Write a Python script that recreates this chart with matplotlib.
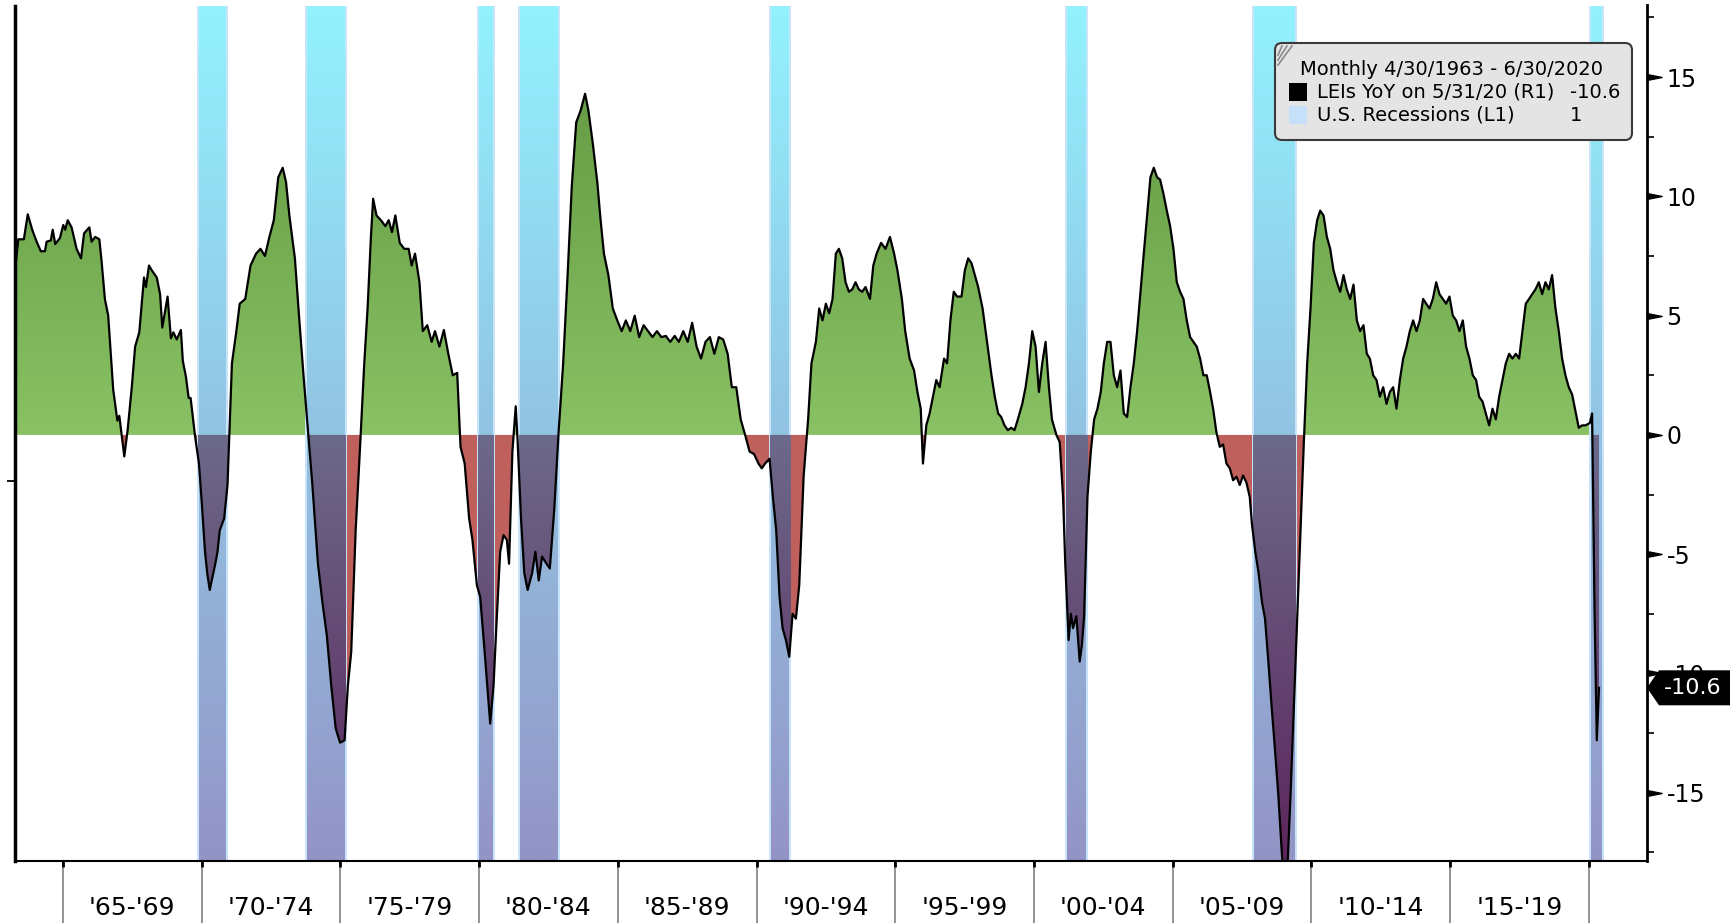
"""
LEIs YoY (R1) avec les recessions US (L1) en fond - style terminal Bloomberg.
"""
import numpy as np
import matplotlib
matplotlib.use("Agg")
import matplotlib.pyplot as plt
import matplotlib.transforms as mtransforms
from matplotlib.path import Path
from matplotlib.patches import FancyBboxPatch, Polygon, Rectangle
from matplotlib.lines import Line2D

plt.rcParams["axes.unicode_minus"] = False
plt.rcParams["font.family"] = ["DejaVu Sans"]

# --- donnees (annee decimale, % YoY) ---
lei_dates = [
    1963.27, 1963.39, 1963.59, 1963.73, 1963.89, 1964.05, 1964.20, 1964.35, 1964.41, 1964.56,
    1964.63, 1964.72, 1964.89, 1965.01, 1965.08, 1965.17, 1965.31, 1965.49, 1965.65, 1965.76,
    1965.95, 1966.03, 1966.16, 1966.31, 1966.39, 1966.51, 1966.63, 1966.81, 1966.96, 1967.03,
    1967.21, 1967.33, 1967.48, 1967.60, 1967.75, 1967.92, 1967.99, 1968.10, 1968.20, 1968.38,
    1968.50, 1968.58, 1968.77, 1968.89, 1968.98, 1969.10, 1969.25, 1969.32, 1969.43, 1969.53,
    1969.60, 1969.76, 1969.90, 1970.00, 1970.12, 1970.20, 1970.29, 1970.49, 1970.57, 1970.65,
    1970.81, 1970.93, 1971.09, 1971.25, 1971.37, 1971.57, 1971.76, 1971.96, 1972.12, 1972.28,
    1972.44, 1972.60, 1972.76, 1972.92, 1973.04, 1973.16, 1973.36, 1973.52, 1973.67, 1973.83,
    1973.99, 1974.19, 1974.35, 1974.51, 1974.67, 1974.83, 1974.99, 1975.15, 1975.27, 1975.39,
    1975.55, 1975.70, 1975.86, 1975.98, 1976.10, 1976.18, 1976.30, 1976.46, 1976.62, 1976.74,
    1976.86, 1976.98, 1977.14, 1977.30, 1977.46, 1977.57, 1977.69, 1977.85, 1977.97, 1978.13,
    1978.29, 1978.41, 1978.57, 1978.73, 1978.89, 1979.05, 1979.21, 1979.33, 1979.48, 1979.64,
    1979.76, 1979.92, 1980.04, 1980.20, 1980.32, 1980.40, 1980.52, 1980.64, 1980.76, 1980.88,
    1981.00, 1981.08, 1981.20, 1981.32, 1981.39, 1981.51, 1981.63, 1981.75, 1981.91, 1982.03,
    1982.15, 1982.27, 1982.43, 1982.55, 1982.71, 1982.87, 1983.03, 1983.19, 1983.34, 1983.50,
    1983.66, 1983.82, 1983.94, 1984.10, 1984.26, 1984.38, 1984.50, 1984.66, 1984.82, 1984.98,
    1985.14, 1985.29, 1985.45, 1985.61, 1985.77, 1985.93, 1986.09, 1986.25, 1986.41, 1986.57,
    1986.73, 1986.89, 1987.05, 1987.20, 1987.36, 1987.52, 1987.68, 1987.84, 1988.00, 1988.16,
    1988.32, 1988.48, 1988.64, 1988.80, 1988.96, 1989.11, 1989.27, 1989.43, 1989.59, 1989.75,
    1989.91, 1990.07, 1990.19, 1990.31, 1990.47, 1990.59, 1990.71, 1990.83, 1990.94, 1991.06,
    1991.18, 1991.30, 1991.42, 1991.54, 1991.70, 1991.86, 1991.98, 1992.14, 1992.26, 1992.38,
    1992.50, 1992.62, 1992.74, 1992.86, 1992.97, 1993.09, 1993.21, 1993.33, 1993.45, 1993.57,
    1993.69, 1993.81, 1993.93, 1994.09, 1994.21, 1994.33, 1994.49, 1994.65, 1994.81, 1994.96,
    1995.08, 1995.24, 1995.36, 1995.52, 1995.68, 1995.80, 1995.92, 1996.00, 1996.12, 1996.24,
    1996.36, 1996.48, 1996.60, 1996.76, 1996.87, 1996.99, 1997.11, 1997.23, 1997.39, 1997.51,
    1997.63, 1997.75, 1997.87, 1997.99, 1998.15, 1998.31, 1998.47, 1998.59, 1998.71, 1998.82,
    1998.94, 1999.06, 1999.18, 1999.30, 1999.42, 1999.58, 1999.70, 1999.82, 1999.94, 2000.06,
    2000.18, 2000.30, 2000.42, 2000.54, 2000.65, 2000.81, 2000.93, 2001.05, 2001.13, 2001.25,
    2001.33, 2001.41, 2001.53, 2001.65, 2001.73, 2001.81, 2001.93, 2002.05, 2002.17, 2002.29,
    2002.41, 2002.52, 2002.64, 2002.76, 2002.88, 2003.00, 2003.12, 2003.24, 2003.36, 2003.48,
    2003.60, 2003.72, 2003.84, 2003.96, 2004.08, 2004.20, 2004.32, 2004.44, 2004.55, 2004.67,
    2004.79, 2004.91, 2005.03, 2005.15, 2005.27, 2005.39, 2005.51, 2005.63, 2005.75, 2005.87,
    2005.99, 2006.11, 2006.23, 2006.35, 2006.46, 2006.58, 2006.70, 2006.82, 2006.94, 2007.06,
    2007.18, 2007.30, 2007.42, 2007.54, 2007.66, 2007.78, 2007.86, 2007.98, 2008.10, 2008.22,
    2008.33, 2008.45, 2008.57, 2008.69, 2008.81, 2008.93, 2009.01, 2009.13, 2009.25, 2009.37,
    2009.49, 2009.61, 2009.73, 2009.85, 2009.97, 2010.09, 2010.21, 2010.32, 2010.44, 2010.56,
    2010.68, 2010.80, 2010.92, 2011.04, 2011.16, 2011.28, 2011.40, 2011.52, 2011.64, 2011.76,
    2011.88, 2012.00, 2012.11, 2012.23, 2012.35, 2012.47, 2012.59, 2012.71, 2012.83, 2012.95,
    2013.07, 2013.19, 2013.31, 2013.43, 2013.55, 2013.67, 2013.79, 2013.91, 2014.03, 2014.14,
    2014.26, 2014.38, 2014.50, 2014.62, 2014.74, 2014.86, 2014.98, 2015.10, 2015.22, 2015.34,
    2015.46, 2015.58, 2015.70, 2015.82, 2015.94, 2016.05, 2016.17, 2016.29, 2016.41, 2016.53,
    2016.65, 2016.77, 2016.89, 2017.01, 2017.13, 2017.25, 2017.37, 2017.49, 2017.61, 2017.73,
    2017.85, 2017.96, 2018.08, 2018.20, 2018.32, 2018.44, 2018.56, 2018.68, 2018.80, 2018.92,
    2019.04, 2019.16, 2019.28, 2019.40, 2019.52, 2019.64, 2019.76, 2019.88, 2019.96, 2020.04,
    2020.12, 2020.21, 2020.29, 2020.37,
]
lei_yoy = [
    6.9, 8.2, 8.2, 9.25, 8.6, 8.1, 7.7, 7.7, 8.1, 8.15,
    8.6, 8.0, 8.25, 8.8, 8.6, 9.0, 8.7, 7.8, 7.4, 8.45,
    8.7, 8.1, 8.3, 8.2, 7.3, 5.7, 5.0, 1.9, 0.6, 0.8,
    -0.9, 0.2, 2.0, 3.7, 4.3, 6.6, 6.2, 7.1, 6.9, 6.6,
    5.9, 4.5, 5.8, 4.05, 4.3, 4.0, 4.4, 3.1, 2.45, 1.55,
    1.55, -0.05, -1.2, -2.8, -4.9, -5.8, -6.5, -5.4, -4.9, -4.0,
    -3.5, -2.1, 3.0, 4.35, 5.5, 5.7, 7.1, 7.6, 7.8, 7.5,
    8.3, 9.0, 10.8, 11.2, 10.6, 9.2, 7.4, 4.8, 2.5, 0.2,
    -2.1, -5.4, -7.0, -8.4, -10.5, -12.3, -12.9, -12.8, -10.5, -9.1,
    -4.0, -0.7, 3.0, 5.3, 8.3, 9.9, 9.2, 9.0, 8.75, 9.0,
    8.5, 9.2, 8.05, 7.8, 7.8, 7.1, 7.6, 6.4, 4.35, 4.6,
    3.9, 4.35, 3.7, 4.4, 3.4, 2.5, 2.6, -0.5, -1.2, -3.5,
    -4.4, -6.3, -6.8, -9.1, -10.9, -12.1, -10.5, -7.6, -4.9, -4.2,
    -4.4, -5.4, -0.7, 1.2, -0.3, -3.5, -5.8, -6.5, -5.8, -4.9,
    -6.1, -5.1, -5.4, -5.6, -3.1, 0.2, 3.0, 6.7, 10.4, 13.1,
    13.6, 14.3, 13.6, 12.2, 10.6, 9.0, 7.6, 6.7, 5.3, 4.8,
    4.35, 4.8, 4.35, 5.0, 4.1, 4.6, 4.35, 4.1, 4.35, 4.1,
    4.15, 3.9, 4.15, 3.9, 4.35, 3.9, 4.7, 3.7, 3.2, 3.9,
    4.1, 3.4, 4.1, 4.0, 3.4, 2.0, 2.0, 0.65, 0.0, -0.7,
    -0.8, -1.2, -1.4, -1.2, -1.0, -2.6, -4.0, -6.8, -8.1, -8.6,
    -9.3, -7.5, -7.7, -6.3, -1.7, 0.65, 3.0, 3.9, 5.3, 4.8,
    5.5, 5.1, 5.7, 7.6, 7.8, 7.4, 6.4, 6.0, 6.1, 6.4,
    6.1, 6.0, 6.2, 5.7, 7.1, 7.6, 8.05, 7.8, 8.3, 7.6,
    6.9, 5.7, 4.35, 3.2, 2.7, 1.8, 1.1, -1.2, 0.4, 0.9,
    1.6, 2.3, 2.0, 3.2, 3.0, 4.8, 6.0, 5.8, 5.8, 6.9,
    7.4, 7.2, 6.7, 6.2, 5.3, 3.9, 2.5, 1.6, 0.9, 0.75,
    0.4, 0.2, 0.3, 0.2, 0.65, 1.3, 2.0, 3.0, 4.35, 3.7,
    1.8, 3.0, 3.9, 2.0, 0.65, 0.0, -0.3, -2.6, -5.4, -8.6,
    -7.5, -8.1, -7.6, -9.5, -8.8, -7.6, -2.6, -0.7, 0.65, 1.1,
    1.8, 3.0, 3.9, 3.9, 2.5, 2.0, 2.7, 0.9, 0.75, 2.0,
    3.0, 4.35, 6.0, 7.6, 9.2, 10.8, 11.2, 10.8, 10.7, 10.1,
    9.4, 8.75, 7.8, 6.4, 6.0, 5.7, 4.8, 4.1, 3.9, 3.7,
    3.2, 2.5, 2.5, 1.8, 1.1, 0.1, -0.5, -0.4, -1.2, -1.4,
    -1.9, -1.75, -2.1, -1.7, -2.0, -2.6, -3.75, -4.9, -5.8, -7.0,
    -7.7, -9.5, -11.4, -13.2, -15.1, -17.4, -18.8, -18.4, -15.1, -11.4,
    -7.7, -4.0, -0.3, 3.0, 5.3, 8.05, 9.0, 9.4, 9.2, 8.3,
    7.8, 6.9, 6.4, 6.0, 6.7, 6.1, 5.7, 6.3, 4.8, 4.35,
    4.6, 3.4, 3.2, 2.5, 2.3, 1.6, 2.0, 1.3, 1.8, 2.0,
    1.1, 2.3, 3.2, 3.7, 4.35, 4.8, 4.35, 4.8, 5.7, 5.5,
    5.3, 5.7, 6.4, 5.9, 5.7, 5.5, 5.8, 5.0, 4.8, 4.35,
    4.8, 3.7, 3.2, 2.5, 2.3, 1.6, 1.4, 0.9, 0.4, 1.1,
    0.65, 1.6, 2.3, 3.0, 3.4, 3.2, 3.4, 3.2, 4.35, 5.5,
    5.7, 5.9, 6.1, 6.4, 5.9, 6.4, 6.1, 6.7, 5.3, 4.35,
    3.2, 2.5, 2.0, 1.7, 1.0, 0.3, 0.4, 0.4, 0.45, 0.5,
    0.9, -7.4, -12.8, -10.6,
]

# recessions US (debut, fin) en annee decimale
rec_start = [1969.85, 1973.75, 1979.96, 1981.43, 1990.47, 2001.17, 2007.90, 2020.03]
rec_end = [1970.93, 1975.19, 1980.52, 1982.87, 1991.22, 2001.93, 2009.45, 2020.50]

period_edges = [1965, 1970, 1975, 1980, 1985, 1990, 1995, 2000, 2005, 2010, 2015, 2020]
period_labels = ["'65-'69", "'70-'74", "'75-'79", "'80-'84", "'85-'89", "'90-'94",
                 "'95-'99", "'00-'04", "'05-'09", "'10-'14", "'15-'19"]

right_major = [-15, -10, -5, 0, 5, 10, 15]
right_minor = [-17.5, -12.5, -7.5, -2.5, 2.5, 7.5, 12.5, 17.5]

legend_title = "Monthly 4/30/1963 - 6/30/2020"
legend_rows = [("LEIs YoY on 5/31/20 (R1)", "-10.6", "black"),
               ("U.S. Recessions (L1)", "1", "#c5e0f8")]

W, H = 1730, 923
XLIM = (1963.27, 2022.1)
YLIM = (-17.86, 18.0)


def gradient(ax, extent, top_rgb, bot_rgb, zorder, clip=None):
    c = np.linspace(0, 1, 256)[:, None, None]
    top = np.array(top_rgb) / 255.0
    bot = np.array(bot_rgb) / 255.0
    img = top * (1 - c) + bot * c
    im = ax.imshow(img, extent=extent, aspect="auto", origin="upper",
                   interpolation="bilinear", zorder=zorder)
    if clip is not None:
        im.set_clip_path(clip, ax.transData)
    return im


x = np.array(lei_dates)
y = np.array(lei_yoy)

fig = plt.figure(figsize=(W / 100, H / 100), dpi=100)
ax = fig.add_axes([15 / W, 1 - 861 / H, (1647 - 15) / W, (861 - 5.5) / H])

# axe gauche (L1) : seulement le trait et une graduation
ax_l = ax.twinx()
ax_l.yaxis.tick_left()
ax_l.set_ylim(-0.8, 1.0)
ax_l.set_yticks([0])
ax_l.set_yticklabels([])
ax_l.tick_params(axis="y", length=6, width=1.3, direction="out", color="black")
for s in ["top", "right", "bottom"]:
    ax_l.spines[s].set_visible(False)
ax_l.spines["left"].set_linewidth(2.5)

# zone positive : degrade vert
pos = ax.fill_between(x, y, 0, where=y >= 0, interpolate=True, color="none", lw=0)
pos_path = Path.make_compound_path(*pos.get_paths())
gradient(ax, (XLIM[0], XLIM[1], 0, 15), (100, 155, 68), (137, 193, 100), 1, pos_path)

# zone negative : rouge
neg = ax.fill_between(x, y, 0, where=y <= 0, interpolate=True,
                      color="#c0605c", lw=0, zorder=1.1)
neg_path = Path.make_compound_path(*neg.get_paths())

# barres de recession (degrade cyan -> lavande) + partie sombre sous zero
for a, b in zip(rec_start, rec_end):
    gradient(ax, (a, b, YLIM[0], YLIM[1]), (146, 242, 254), (148, 148, 198), 2)
    gradient(ax, (a, b, YLIM[0], 0), (108, 106, 138), (92, 38, 92), 2.5, neg_path)
    for e in (a, b):
        ax.axvline(e, color="#c9e5fb", lw=1.4, zorder=2.2)

ax.plot(x, y, color="black", lw=1.6, zorder=3)

ax.set_xlim(*XLIM)
ax.set_ylim(*YLIM)

# axe droit (R1)
ax.yaxis.tick_right()
ax.set_yticks(right_major)
ax.set_yticklabels([str(v) for v in right_major])
ax.set_yticks(right_minor, minor=True)
ax.tick_params(axis="y", which="major", length=0, pad=14, labelsize=17)
ax.tick_params(axis="y", which="minor", length=5, width=1.2, direction="out")
arrow = Path([(0, -1), (5, 0), (0, 1), (0, -1)],
             [Path.MOVETO, Path.LINETO, Path.LINETO, Path.CLOSEPOLY])
blend = mtransforms.blended_transform_factory(ax.transAxes, ax.transData)
ax.plot([1] * len(right_major), right_major, transform=blend, marker=arrow,
        ms=21, color="black", ls="none", clip_on=False, zorder=5)

# axe bas : separateurs par periodes de 5 ans
ax.set_xticks(period_edges)
ax.set_xticklabels([])
ax.set_xticks(period_edges, minor=True)
ax.xaxis.remove_overlapping_locs = False
ax.tick_params(axis="x", which="major", length=45, width=1.3, color="#8a8a8a")
ax.tick_params(axis="x", which="minor", length=4, width=2, color="black")
xblend = mtransforms.blended_transform_factory(ax.transData, ax.transAxes)
for a, b, lab in zip(period_edges[:-1], period_edges[1:], period_labels):
    ax.text((a + b) / 2, -0.055, lab, transform=xblend, ha="center", va="center",
            fontsize=18)

ax.spines["top"].set_visible(False)
ax.spines["left"].set_visible(False)
ax.spines["right"].set_linewidth(2)
ax.spines["bottom"].set_linewidth(1.5)

# etiquette derniere valeur
last = y[-1]
tag_tr = mtransforms.Affine2D() + mtransforms.ScaledTranslation(1, last, blend)
tag = Polygon([(0, 0), (12, 17.5), (85, 17.5), (85, -17.5), (12, -17.5)],
              closed=True, transform=tag_tr, fc="black", ec="none",
              clip_on=False, zorder=6)
ax.add_patch(tag)
ax.text(46, 0, f"{last:.1f}", transform=tag_tr, color="white", fontsize=16,
        ha="center", va="center", zorder=7, clip_on=False)

# legende facon Bloomberg
inch = fig.dpi_scale_trans
box = FancyBboxPatch((12.75, 7.83), 3.57, 0.97,
                     boxstyle="round,pad=0,rounding_size=0.07", transform=inch,
                     fc="#e4e4e4", ec="#3a3a3a", lw=1.5, zorder=10)
fig.add_artist(box)
for k in range(3):
    fig.add_artist(Line2D([12.78, 12.80 + 0.05 * k + 0.02],
                          [8.68 - 0.05 * k, 8.77], transform=inch,
                          color="#8a8a8a", lw=1.2, zorder=11))
fig.text(13.0, 8.54, legend_title, transform=inch, fontsize=14,
         va="center", ha="left", zorder=11)
for i, (lab, val, col) in enumerate(legend_rows):
    yc = 8.31 - 0.235 * i
    fig.add_artist(Rectangle((12.89, yc - 0.09), 0.18, 0.18, transform=inch,
                             fc=col, ec="none", zorder=11))
    fig.text(13.17, yc, lab, transform=inch, fontsize=14, va="center",
             ha="left", zorder=11)
    fig.text(15.70, yc, val, transform=inch, fontsize=14, va="center",
             ha="left", zorder=11)

fig.savefig("out.png", dpi=100)
